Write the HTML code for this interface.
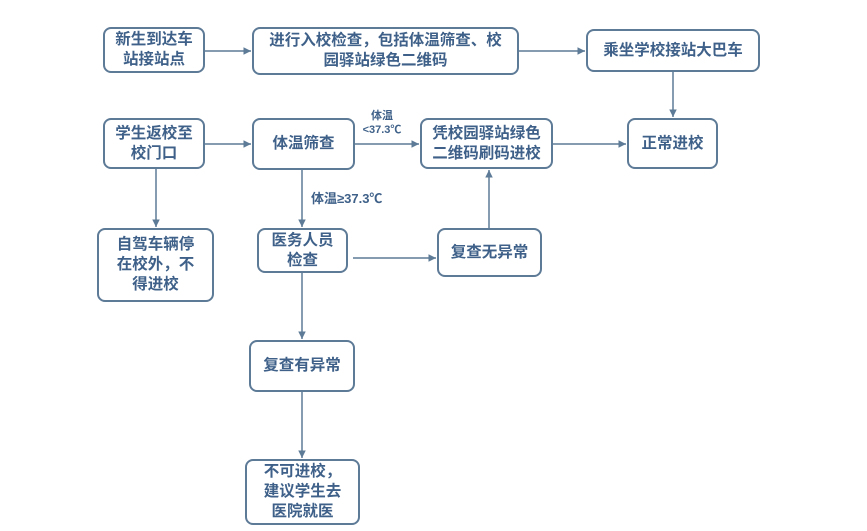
<!DOCTYPE html>
<html><head><meta charset="utf-8"><style>
body{margin:0;width:867px;height:531px;background:#fff;position:relative;overflow:hidden;font-family:"Liberation Sans","Noto Sans CJK SC",sans-serif;}
.b{position:absolute;box-sizing:border-box;border:2px solid #5d7a96;border-radius:8px;display:flex;align-items:center;justify-content:center;text-align:center;color:#3f6189;font-weight:bold;font-size:15.5px;line-height:20px;background:#fff;}
.l{position:absolute;color:#3f6189;font-weight:bold;font-size:11px;line-height:14px;text-align:center;}
svg{position:absolute;left:0;top:0}
</style></head><body>
<svg width="867" height="531">
<defs><marker id="a" markerWidth="6" markerHeight="6" refX="5" refY="3" orient="auto"><path d="M0,0.5 L5,3 L0,5.5z" fill="#5d7a96"/></marker></defs>
<g stroke="#5d7a96" stroke-width="1.5" fill="none" marker-end="url(#a)">
<line x1="205" y1="51" x2="251" y2="51"/>
<line x1="519" y1="51" x2="585" y2="51"/>
<line x1="673" y1="72" x2="673" y2="117"/>
<line x1="205" y1="144" x2="251" y2="144"/>
<line x1="355" y1="144" x2="419" y2="144"/>
<line x1="553" y1="144" x2="626" y2="144"/>
<line x1="156" y1="169" x2="156" y2="227"/>
<line x1="302" y1="170" x2="302" y2="227"/>
<line x1="489" y1="228" x2="489" y2="170"/>
<line x1="353" y1="258" x2="436" y2="258"/>
<line x1="302" y1="273" x2="302" y2="339"/>
<line x1="302" y1="392" x2="302" y2="458"/>
</g></svg>
<div class="b" style="left:103px;top:27px;width:102px;height:46px">新生到达车<br>站接站点</div>
<div class="b" style="left:252px;top:27px;width:267px;height:48px">进行入校检查，包括体温筛查、校<br>园驿站绿色二维码</div>
<div class="b" style="left:586px;top:29px;width:174px;height:43px">乘坐学校接站大巴车</div>
<div class="b" style="left:103px;top:118px;width:102px;height:51px">学生返校至<br>校门口</div>
<div class="b" style="left:252px;top:118px;width:103px;height:52px">体温筛查</div>
<div class="b" style="left:420px;top:118px;width:133px;height:51px">凭校园驿站绿色<br>二维码刷码进校</div>
<div class="b" style="left:627px;top:118px;width:91px;height:51px">正常进校</div>
<div class="b" style="left:97px;top:228px;width:117px;height:74px">自驾车辆停<br>在校外，不<br>得进校</div>
<div class="b" style="left:257px;top:228px;width:91px;height:45px">医务人员<br>检查</div>
<div class="b" style="left:437px;top:228px;width:105px;height:49px">复查无异常</div>
<div class="b" style="left:249px;top:340px;width:106px;height:52px">复查有异常</div>
<div class="b" style="left:245px;top:459px;width:115px;height:66px">不可进校，<br>建议学生去<br>医院就医</div>
<div class="l" style="left:360px;top:109px;width:44px">体温<br>&lt;37.3℃</div>
<div class="l" style="left:311px;top:192px;font-size:13px">体温≥37.3℃</div>
</body></html>
